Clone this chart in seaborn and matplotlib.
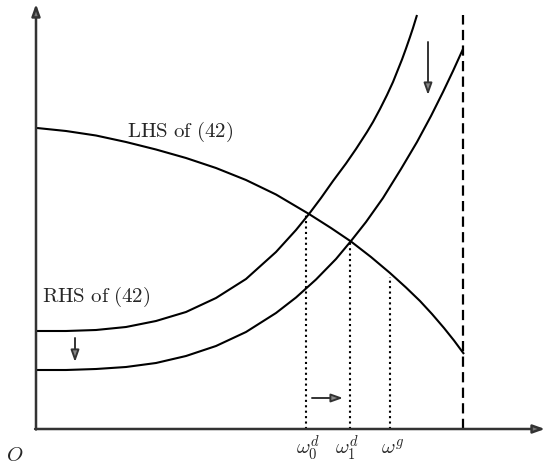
import matplotlib
matplotlib.use("Agg")
import matplotlib.pyplot as plt
import seaborn as sns
import pandas as pd

# ---- data (origin at the axes corner) ----
lhs_x = [1, 30, 60, 90, 120, 150, 180, 210, 240, 273, 295, 315, 335, 354,
         370, 384, 396, 408, 418, 428]
lhs_y = [301, 298, 293.5, 287, 279.5, 271, 261, 249, 234.5, 215, 201, 187.5,
         172, 156, 141.5, 128, 115, 101, 88.5, 75]

rhs0_x = [0, 30, 60, 90, 120, 150, 180, 210, 240, 260, 273, 285, 297, 310,
          320, 331, 337, 344, 351, 357, 361, 366, 370, 374, 377, 381]
rhs0_y = [98, 98, 99, 102, 108, 117, 131, 150, 177, 199, 215, 231, 248,
          265.5, 280, 297, 307, 320, 334, 347, 357, 369.5, 380.5, 392, 401,
          414]

rhs1_x = [0, 30, 60, 90, 120, 150, 180, 210, 240, 260, 280, 300, 315, 330,
          347, 365, 381, 395, 407, 417, 427]
rhs1_y = [59, 59, 60, 62, 66, 73, 83, 97, 116, 131.5, 149.5, 170, 188, 207,
          231, 260, 287, 313, 337, 358, 380]

omega_pos = [270, 314, 354]
omega_top = [215, 188, 152]
omega_labels = [r"$\omega_0^d$", r"$\omega_1^d$", r"$\omega^g$"]
omega_label_shift = [1.5, -3.5, 3]
bound_x = 427
bound_top = 414
curve_labels = [r"$\mathrm{LHS\ of\ (42)}$", r"$\mathrm{RHS\ of\ (42)}$"]
origin_label = r"$O$"

sns.set_style("white")
plt.rcParams["mathtext.fontset"] = "cm"
plt.rcParams["font.family"] = ["DejaVu Serif"]

fig = plt.figure(figsize=(5.46, 4.69), dpi=100)
ax = fig.add_axes([0, 0, 1, 1])
ax.set_xlim(-36, 510)
ax.set_ylim(-40, 429)
ax.axis("off")

lw = 1.5
for xs, ys in [(lhs_x, lhs_y), (rhs0_x, rhs0_y), (rhs1_x, rhs1_y)]:
    df = pd.DataFrame({"x": xs, "y": ys})
    sns.lineplot(data=df, x="x", y="y", ax=ax, color="black", lw=lw,
                 sort=False, estimator=None, solid_capstyle="butt",
                 solid_joinstyle="round")

# dotted guides
for xp, yt in zip(omega_pos, omega_top):
    ax.plot([xp, xp], [0, yt], color="black", lw=1.5,
            linestyle=(0, (1, 1.6)), dash_capstyle="butt")
# dashed bound
ax.plot([bound_x, bound_x], [0, bound_top], color="black", lw=1.6,
        linestyle=(0, (4.6, 2.4)), dash_capstyle="butt")

# axes with arrows
ap_axis = dict(arrowstyle="-|>,head_length=0.7,head_width=0.25",
               lw=1.8, fc="#777777", ec="#333333", shrinkA=0, shrinkB=0,
               mutation_scale=10)
ax.annotate("", xy=(0, 425), xytext=(0, -0.5), arrowprops=ap_axis)
ax.annotate("", xy=(509, 0), xytext=(-0.9, 0), arrowprops=ap_axis)

ap = dict(arrowstyle="-|>,head_length=0.7,head_width=0.25",
          lw=1.4, fc="#888888", ec="#333333", shrinkA=0, shrinkB=0,
          mutation_scale=10)
ax.annotate("", xy=(392, 334), xytext=(392, 387), arrowprops=ap)
ax.annotate("", xy=(39, 67), xytext=(39, 91), arrowprops=ap)
ax.annotate("", xy=(307, 31), xytext=(276, 31), arrowprops=ap)

fs = 15
ax.text(144, 297, curve_labels[0], fontsize=fs, ha="center", va="center")
ax.text(6, 132, curve_labels[1], fontsize=fs, ha="left", va="center")
ax.text(-21, -26, origin_label, fontsize=fs, ha="center", va="center")
for xp, lab, sh in zip(omega_pos, omega_labels, omega_label_shift):
    ax.text(xp + sh, -25, lab, fontsize=fs, ha="center", va="baseline")

fig.savefig("out.png", dpi=100)
